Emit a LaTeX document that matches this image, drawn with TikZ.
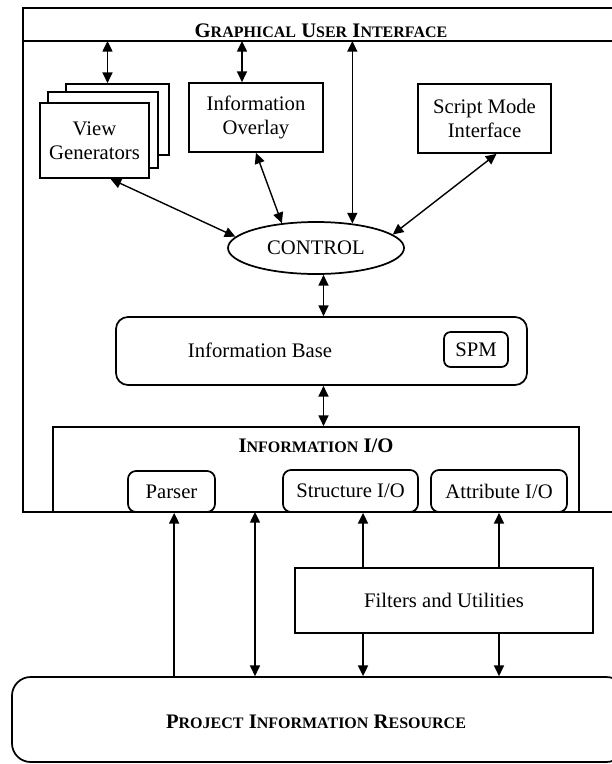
\documentclass[tikz,border=0pt]{standalone}
\usepackage{fontspec}
\setmainfont{Liberation Serif}
\usetikzlibrary{arrows.meta,shapes.geometric,calc}
% reduced capitals for the bold titles
\newcommand\scpart[1]{{\fontsize{12}{14}\selectfont #1}}
\begin{document}
\begin{tikzpicture}[x=0.75pt,y=-0.75pt,
  every node/.style={font=\fontsize{15.5}{18}\selectfont},
  sz/.style 2 args={minimum width=#1*0.75pt, minimum height=#2*0.75pt},
  frame/.style={draw, line width=1.3pt, inner sep=0pt, fill=white},
  openframe/.style={draw, line width=1.3pt, inner sep=0pt},
  title/.style={font=\fontsize{15.5}{18}\selectfont\bfseries, inner sep=0pt},
  conn/.style={line width=1.05pt},
  tip/.tip={Triangle[width=7.5pt,length=8pt]},
  dbl/.style={conn,tip-tip},
  one/.style={conn,-tip},
]
\useasboundingbox (0,0) rectangle (611,764);

% graphical user interface frame and its title bar
\node[openframe, sz={592}{504}] (gui) at (319,260) {};
\coordinate (tbL) at (23,41);
\coordinate (tbR) at (615,41);
\draw[line width=1.3pt] (tbL) -- (tbR);
\node[title] (guititle) at (321,31) {G\scpart{RAPHICAL} U\scpart{SER} I\scpart{NTERFACE}};

% stacked view generators
\node[frame, sz={103}{71}] (vgback) at (117.5,119.5) {};
\node[frame, sz={110}{76}] (vgmid) at (103,130) {};
\node[frame, sz={109}{75}, align=center] (vgfront) at (94.5,140.5) {View\\Generators};

\node[frame, sz={134}{69}, align=center] (overlay) at (256,117.5) {Information\\Overlay};
\node[frame, sz={133}{69}, align=center] (script) at (484.5,118.5) {Script Mode\\Interface};

\node[ellipse, draw, line width=1.3pt, inner sep=0pt, fill=white, sz={176}{52}] (ctrl) at (316,248) {CONTROL};

% information base
\node[frame, rounded corners=9pt, sz={411}{68}] (ibase) at (321.5,351) {};
\node (ibtext) at (260,350) {Information Base};
\node[frame, rounded corners=5pt, sz={64}{35}] (spm) at (476,349.5) {SPM};

% information I/O
\node[openframe, sz={526}{85}] (iio) at (316,469.5) {};
\node[title] (iiotitle) at (316,446) {I\scpart{NFORMATION} I/O};
\node[frame, rounded corners=6pt, sz={87}{41}] (parser) at (171.5,491.5) {Parser};
\node[frame, rounded corners=6pt, sz={135}{42}] (struct) at (350.5,491) {Structure I/O};
\node[frame, rounded corners=6pt, sz={136}{42}] (attr) at (499,491) {Attribute I/O};

\node[frame, sz={298}{65}] (filters) at (444,600.5) {Filters and Utilities};

\node[frame, rounded corners=14pt, sz={613}{85}] (pir) at (318.5,719.5) {};
\node[title] (pirtitle) at (316,722) {P\scpart{ROJECT} I\scpart{NFORMATION} R\scpart{ESOURCE}};

% connectors inside the interface
\coordinate (vgtop) at ([xshift=-7.5pt]vgback.north);
\draw[dbl] (vgtop) -- (vgtop |- tbL);
\coordinate (ovtop) at ([xshift=-10.5pt]overlay.north);
\draw[dbl] (ovtop) -- (ovtop |- tbL);
\draw[dbl] (ctrl.34 |- tbL) -- (ctrl.34);
\draw[dbl] ([xshift=12pt]vgfront.south) -- (ctrl.172);
\draw[dbl] (overlay.south) -- (ctrl.144);
\draw[dbl] ([xshift=9pt]script.south) -- (ctrl.10);
\coordinate (cb) at ([xshift=1.5pt]ibase.north);
\draw[dbl] (cb) -- (cb |- ctrl.south);
\coordinate (bi) at ([xshift=1.5pt]ibase.south);
\draw[dbl] (bi) -- (bi |- iio.north);

% connectors to the project information resource
\coordinate (pa) at ([xshift=2pt]parser.south);
\draw[one] (pa |- pir.north) -- (pa);
\coordinate (mio) at (255,512);
\draw[dbl] (mio) -- (mio |- pir.north);
\coordinate (sa) at ([xshift=9.4pt]struct.south);
\draw[one] (sa |- filters.north) -- (sa);
\draw[one] (sa |- filters.south) -- (sa |- pir.north);
\draw[one] (attr.south |- filters.north) -- (attr.south);
\draw[one] (attr.south |- filters.south) -- (attr.south |- pir.north);
\end{tikzpicture}
\end{document}
